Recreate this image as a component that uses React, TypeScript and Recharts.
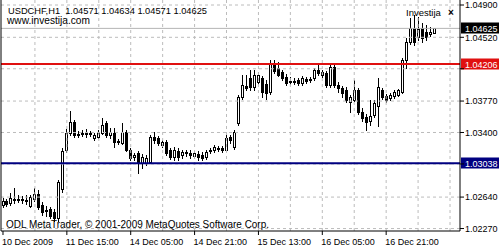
import React from 'react'
import { ComposedChart, Bar, XAxis, YAxis, ReferenceLine } from 'recharts'

// USDCHF H1, 10 Dec 2009 23:00 .. 17 Dec 2009 ~12:00
const opens = [
  1.02547, 1.02594, 1.02571, 1.02618, 1.02606, 1.02618, 1.02606, 1.02535, 1.02618, 1.02677,
  1.02547, 1.02488, 1.025, 1.02465, 1.02394, 1.02735, 1.03194, 1.03394, 1.03524, 1.03371,
  1.03382, 1.03394, 1.03382, 1.03335, 1.03347, 1.03394, 1.03512, 1.03371, 1.03394, 1.03288,
  1.03277, 1.03406, 1.03194, 1.03112, 1.03159, 1.03041, 1.03041, 1.03053, 1.03347, 1.03335,
  1.03253, 1.03288, 1.03194, 1.03112, 1.03182, 1.03135, 1.03171, 1.03159, 1.03124, 1.03147,
  1.03135, 1.03112, 1.03182, 1.03194, 1.03218, 1.03218, 1.03194, 1.03347, 1.0323, 1.03512,
  1.03818, 1.03947, 1.04041, 1.03935, 1.03994, 1.04041, 1.03971, 1.03877, 1.04194, 1.04159,
  1.04112, 1.04053, 1.03994, 1.04006, 1.04018, 1.03983, 1.0403, 1.04018, 1.04041, 1.04135,
  1.04077, 1.041, 1.03959, 1.04171, 1.03959, 1.03924, 1.039, 1.03759, 1.03783, 1.039,
  1.03641, 1.03583, 1.03535, 1.03606, 1.03712, 1.039, 1.0383, 1.03806, 1.0383, 1.03841,
  1.03877, 1.04253, 1.04465, 1.0463, 1.04524, 1.0463, 1.04583, 1.04559, 1.04571,
]
const highs = [
  1.0263, 1.02618, 1.02688, 1.02747, 1.02665, 1.02653, 1.02665, 1.02665, 1.02747, 1.02724,
  1.02582, 1.02535, 1.02524, 1.025, 1.02841, 1.03218, 1.03441, 1.03653, 1.03547, 1.03418,
  1.0343, 1.03441, 1.03418, 1.03394, 1.0343, 1.03571, 1.03535, 1.03453, 1.03453, 1.03324,
  1.03512, 1.0343, 1.03218, 1.03159, 1.03182, 1.03147, 1.03135, 1.03371, 1.03406, 1.03359,
  1.03312, 1.03312, 1.03218, 1.0323, 1.03218, 1.03194, 1.03194, 1.03194, 1.03182, 1.03182,
  1.03171, 1.03194, 1.03218, 1.03253, 1.03241, 1.03241, 1.03371, 1.03371, 1.0343, 1.03841,
  1.04077, 1.04077, 1.04135, 1.04135, 1.04112, 1.04065, 1.04018, 1.04253, 1.04253, 1.0423,
  1.04135, 1.04088, 1.04053, 1.04041, 1.04041, 1.04065, 1.04053, 1.04053, 1.04159, 1.04206,
  1.04135, 1.04124, 1.04218, 1.04206, 1.03994, 1.03947, 1.03935, 1.03841, 1.04018, 1.03924,
  1.03688, 1.03618, 1.03783, 1.03783, 1.04041, 1.03924, 1.03853, 1.03865, 1.039, 1.03912,
  1.04277, 1.04512, 1.04747, 1.04783, 1.04759, 1.04688, 1.04665, 1.04641, 1.04634,
]
const lows = [
  1.02524, 1.02535, 1.02547, 1.02571, 1.02582, 1.02571, 1.02559, 1.02524, 1.02594, 1.025,
  1.0243, 1.02418, 1.02394, 1.02359, 1.02359, 1.027, 1.03171, 1.03371, 1.03347, 1.03347,
  1.03359, 1.03347, 1.03359, 1.03312, 1.03335, 1.03382, 1.03347, 1.03335, 1.0323, 1.03265,
  1.03265, 1.03182, 1.03077, 1.03077, 1.02924, 1.02982, 1.03018, 1.03041, 1.03277, 1.03253,
  1.0323, 1.03135, 1.03088, 1.03077, 1.03077, 1.031, 1.03124, 1.031, 1.031, 1.03077,
  1.03077, 1.03088, 1.03159, 1.03171, 1.03182, 1.03171, 1.03171, 1.03277, 1.03206, 1.03488,
  1.03794, 1.039, 1.039, 1.039, 1.03971, 1.03818, 1.03794, 1.03853, 1.041, 1.04065,
  1.04018, 1.03959, 1.03971, 1.03971, 1.03959, 1.03959, 1.03983, 1.03994, 1.04018, 1.04077,
  1.04053, 1.03935, 1.03935, 1.03935, 1.03877, 1.03818, 1.03759, 1.03641, 1.03771, 1.03618,
  1.03535, 1.0343, 1.03488, 1.03583, 1.03477, 1.03794, 1.03759, 1.03783, 1.03806, 1.0383,
  1.03865, 1.04159, 1.04441, 1.0443, 1.04488, 1.04465, 1.04488, 1.04535, 1.04571,
]
const closes = [
  1.02594, 1.02559, 1.0263, 1.02606, 1.02618, 1.02606, 1.02594, 1.02641, 1.02677, 1.02524,
  1.02465, 1.02477, 1.02418, 1.02394, 1.02818, 1.03182, 1.03394, 1.03524, 1.03371, 1.03382,
  1.03394, 1.03382, 1.03394, 1.03371, 1.03394, 1.03488, 1.03371, 1.03406, 1.03288, 1.033,
  1.03406, 1.03194, 1.031, 1.03135, 1.03053, 1.03112, 1.031, 1.03347, 1.03312, 1.03277,
  1.03288, 1.03159, 1.03112, 1.03194, 1.03112, 1.03171, 1.03159, 1.03135, 1.03159, 1.03112,
  1.031, 1.03171, 1.03194, 1.0323, 1.03206, 1.03194, 1.03335, 1.03312, 1.03406, 1.03818,
  1.03959, 1.03924, 1.03935, 1.04077, 1.04077, 1.03877, 1.03865, 1.04218, 1.04124, 1.04077,
  1.04041, 1.03983, 1.04006, 1.03994, 1.03983, 1.04041, 1.04006, 1.0403, 1.04135, 1.041,
  1.04112, 1.03959, 1.04171, 1.03959, 1.03924, 1.03865, 1.03783, 1.03818, 1.039, 1.03641,
  1.03571, 1.03524, 1.03594, 1.03747, 1.03935, 1.03818, 1.03783, 1.03841, 1.03877, 1.039,
  1.04253, 1.04465, 1.0463, 1.04465, 1.04618, 1.04512, 1.04524, 1.04583, 1.04625,
]
const freeBars = 6 // empty space right of the last bar

const xTickIdx = [0, 16, 32, 48, 64, 80, 96]
const xTickLabels = ['10 Dec 2009', '11 Dec 15:00', '14 Dec 05:00', '14 Dec 21:00', '15 Dec 13:00', '16 Dec 05:00', '16 Dec 21:00']
const vGridIdx = [8, 16, 24, 32, 40, 48, 56, 64, 72, 80, 88, 96, 104, 112]
const yTicks = [1.049, 1.0452, 1.0415, 1.0377, 1.034, 1.0303, 1.0264, 1.0227]
const yDomain = [1.02241, 1.04959]

const symbol = 'USDCHF,H1'
const resistance = 1.04206
const support = 1.03038
const bid = 1.04625
const tagPrices = [resistance, support, bid]

const FONT = '"Liberation Sans", Arial, sans-serif'
const GRID = '#bcbcbc'

const last = opens.length - 1
const headerValues = [opens[last], highs[last], lows[last], closes[last]].map((v) => v.toFixed(5)).join(' ')

const data = Array.from({ length: opens.length + freeBars }, (_, i) =>
  i < opens.length
    ? { i, range: [lows[i], highs[i]], o: opens[i], h: highs[i], l: lows[i], c: closes[i] }
    : { i, range: null }
)

function Candle(props: any) {
  const { x, y, width, height, payload } = props
  if (!payload || payload.o == null) return null
  const { o, h, l, c } = payload
  const top = Math.min(y, y + height)
  const span = Math.abs(height)
  const py = (p: number) => (h === l ? top : top + ((h - p) / (h - l)) * span)
  const cx = Math.floor(x + width / 2) + 0.5
  const yo = Math.round(py(o))
  const yc = Math.round(py(c))
  const yh = Math.round(top)
  const yl = Math.round(top + span)
  const bTop = Math.min(yo, yc)
  const bBot = Math.max(yo, yc)
  return (
    <g>
      <line x1={cx} x2={cx} y1={yh} y2={yl + 1} stroke="#000" />
      {bBot - bTop < 1 ? (
        <line x1={cx - 1.5} x2={cx + 1.5} y1={bTop + 0.5} y2={bTop + 0.5} stroke="#000" />
      ) : (
        <rect x={cx - 1} y={bTop + 0.5} width={2} height={bBot - bTop} fill={c >= o ? '#fff' : '#000'} stroke="#000" />
      )}
    </g>
  )
}

function PriceTag(props: any) {
  const { viewBox, text, bg } = props
  if (!viewBox) return null
  const x = viewBox.x + viewBox.width + 1
  const y = Math.round(viewBox.y)
  return (
    <g>
      <rect x={x} y={y - 5.5} width={38} height={11} fill={bg} />
      <text x={x + 4} y={y + 3.5} fill="#fff" fontSize={9} fontFamily={FONT}>
        {text}
      </text>
    </g>
  )
}

// price scale labels hidden behind a price tag are not drawn
function YTick(props: any) {
  const { x, y, payload } = props
  const v = payload.value
  if (tagPrices.some((t) => t !== bid && Math.abs(t - v) < 0.0008)) return null
  return (
    <text x={x} y={y} dy="0.355em" textAnchor="start" fill="#000" fontSize={9} fontFamily={FONT}>
      {v.toFixed(5)}
    </text>
  )
}

function XTick(props: any) {
  const { x, y, payload } = props
  const k = xTickIdx.indexOf(payload.value)
  return (
    <text x={x - 1} y={y} dy="0.71em" textAnchor="start" fill="#000" fontSize={9} fontFamily={FONT}>
      {xTickLabels[k]}
    </text>
  )
}

export default function App() {
  return (
    <div style={{ position: 'absolute', left: 0, top: 0, width: 503, height: 250, background: '#fff' }}>
      <ComposedChart width={503} height={250} data={data} margin={{ top: 0, right: 0, bottom: 0, left: 0 }} barCategoryGap={0}>
        <XAxis
          dataKey="i"
          ticks={xTickIdx}
          interval={0}
          height={19}
          tickSize={4}
          tickMargin={4}
          axisLine={{ stroke: '#000' }}
          tickLine={{ stroke: '#000' }}
          tick={<XTick />}
        />
        <YAxis
          orientation="right"
          domain={yDomain}
          allowDataOverflow
          ticks={yTicks}
          interval={0}
          width={43}
          tickSize={4}
          tickMargin={1}
          axisLine={{ stroke: '#000' }}
          tickLine={{ stroke: '#000' }}
          tick={<YTick />}
        />
        <YAxis yAxisId="edge" orientation="left" width={1} tick={false} tickLine={false} axisLine={{ stroke: '#000' }} />
        {yTicks.map((v) => (
          <ReferenceLine key={`h${v}`} y={v} stroke={GRID} strokeDasharray="3 3" />
        ))}
        {vGridIdx.map((v) => (
          <ReferenceLine key={`v${v}`} x={v} stroke={GRID} strokeDasharray="3 3" />
        ))}
        <ReferenceLine y={bid} stroke="#b4b4b4" label={<PriceTag text={bid.toFixed(5)} bg="#000" />} />
        <Bar dataKey="range" shape={(p: any) => <Candle {...p} />} isAnimationActive={false} />
        <ReferenceLine y={resistance} stroke="#e01010" strokeWidth={2} label={<PriceTag text={resistance.toFixed(5)} bg="#e01010" />} />
        <ReferenceLine y={support} stroke="#000080" strokeWidth={2} label={<PriceTag text={support.toFixed(5)} bg="#000080" />} />
      </ComposedChart>
      <svg width={503} height={250} style={{ position: 'absolute', left: 0, top: 0, pointerEvents: 'none' }}>
        <g fontFamily={FONT} fill="#000">
          <text x={8} y={14} fontSize={9.5} textLength={199} lengthAdjust="spacingAndGlyphs" style={{ whiteSpace: 'pre' }}>
            {symbol + '  ' + headerValues}
          </text>
          <text x={7} y={24} fontSize={10} textLength={83} lengthAdjust="spacingAndGlyphs">
            www.investija.com
          </text>
          <text x={6} y={228} fontSize={10} textLength={263} lengthAdjust="spacingAndGlyphs">
            ODL MetaTrader, © 2001-2009 MetaQuotes Software Corp.
          </text>
          <text x={406} y={16} fontSize={9.5}>Investija</text>
          <text x={448} y={16} fontWeight="bold" fontSize={10}>×</text>
        </g>
      </svg>
    </div>
  )
}
